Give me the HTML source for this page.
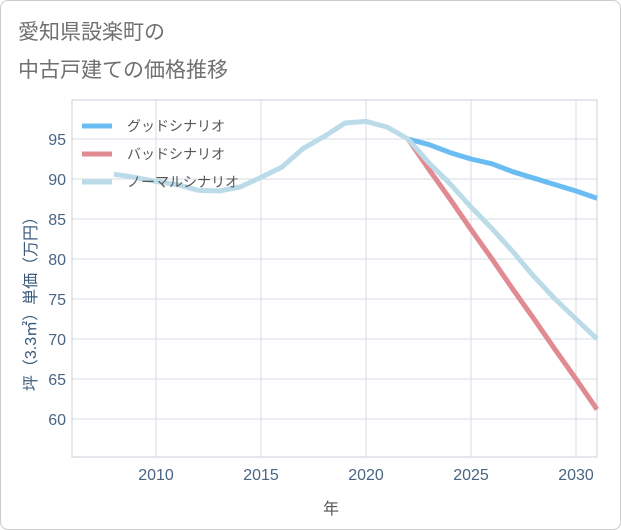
<!DOCTYPE html>
<html><head><meta charset="utf-8">
<style>
body{margin:0;background:#fff;}
.card{position:absolute;left:0;top:0;width:619px;height:528px;border:1px solid #ccc;border-radius:8px;background:#fff;}
svg{position:absolute;left:0;top:0;}
text{font-family:"Liberation Sans","Noto Sans CJK JP",sans-serif;}
</style></head><body>
<div class="card"></div>
<svg width="621" height="530" id="chart">
<text x="18" y="39" font-size="21" fill="#707070">愛知県設楽町の</text>
<text x="18" y="77" font-size="21" fill="#707070">中古戸建ての価格推移</text>
<g id="grid"></g><g id="axes"></g><g id="series"></g><g id="legend"></g>
<text x="331" y="514" font-size="16" fill="#555" text-anchor="middle">年</text>
<text transform="translate(36,300) rotate(-90)" font-size="16" fill="#3b5a7a" text-anchor="middle">坪（3.3㎡）単価（万円）</text>
</svg>
<script>
const xTicks=[2010,2015,2020,2025,2030];
const yTicks=[60,65,70,75,80,85,90,95];
const histYears=[2008,2009,2010,2011,2012,2013,2014,2015,2016,2017,2018,2019,2020,2021,2022];
const histValues=[90.6,90.2,89.7,89.3,88.6,88.5,89.0,90.2,91.5,93.8,95.3,97.0,97.2,96.5,95.0];
const futYears=[2022,2023,2024,2025,2026,2027,2028,2029,2030,2031];
const goodValues=[95.0,94.3,93.3,92.5,91.9,90.9,90.1,89.3,88.5,87.6];
const badValues=[95.0,91.2,87.5,83.7,80.0,76.2,72.5,68.7,65.0,61.2];
const normalValues=[95.0,92.0,89.4,86.5,83.8,80.9,77.8,75.0,72.5,70.0];
const ns="http://www.w3.org/2000/svg";
const L=72,R=597,T=100,B=457;
const xs=y=>L+(y-2006)*21;
const ys=v=>139+(95-v)*8;
function mk(t,a,p){const e=document.createElementNS(ns,t);for(const k in a)e.setAttribute(k,a[k]);p.appendChild(e);return e;}
const grid=document.getElementById('grid'),axes=document.getElementById('axes'),ser=document.getElementById('series'),leg=document.getElementById('legend');
xTicks.forEach(t=>{const l=mk('line',{x1:xs(t),x2:xs(t),y1:T,y2:B,stroke:'#d5dde6'},grid);

const tx=mk('text',{x:xs(t),y:480,'font-size':16,fill:'#4a6582','text-anchor':'middle'},axes);tx.textContent=t;
});
yTicks.forEach(t=>{const l=mk('line',{x1:L,x2:R,y1:ys(t),y2:ys(t),stroke:'#d5dde6'},grid);

const tx=mk('text',{x:66,y:ys(t)+6,'font-size':16,fill:'#4a6582','text-anchor':'end'},axes);tx.textContent=t;
});
const fr=mk('rect',{x:L,y:T,width:R-L,height:B-T,fill:'none',stroke:'#c8d2dc'},grid);

function line(yrs,vals,col,name){const d=yrs.map((y,i)=>(i?'L':'M')+xs(y)+','+ys(vals[i])).join(' ');
const p=mk('path',{d:d,fill:'none',stroke:col,'stroke-width':5,'stroke-linejoin':'round'},ser);
}
line(futYears,goodValues,'#6bbcf2','good-scenario-line');
line(futYears,badValues,'#e08a92','bad-scenario-line');
line(histYears.concat(futYears.slice(1)),histValues.concat(normalValues.slice(1)),'#bcdbe9','normal-scenario-line');
[['グッドシナリオ','#6bbcf2','legend-good'],['バッドシナリオ','#e08a92','legend-bad'],['ノーマルシナリオ','#bcdbe9','legend-normal']].forEach((e,i)=>{
const y=126+i*28;const l=mk('line',{x1:82,x2:112,y1:y,y2:y,stroke:e[1],'stroke-width':5},leg);

const t=mk('text',{x:127,y:y+5,'font-size':14,fill:'#555'},leg);t.textContent=e[0];
});
</script>
</body></html>
